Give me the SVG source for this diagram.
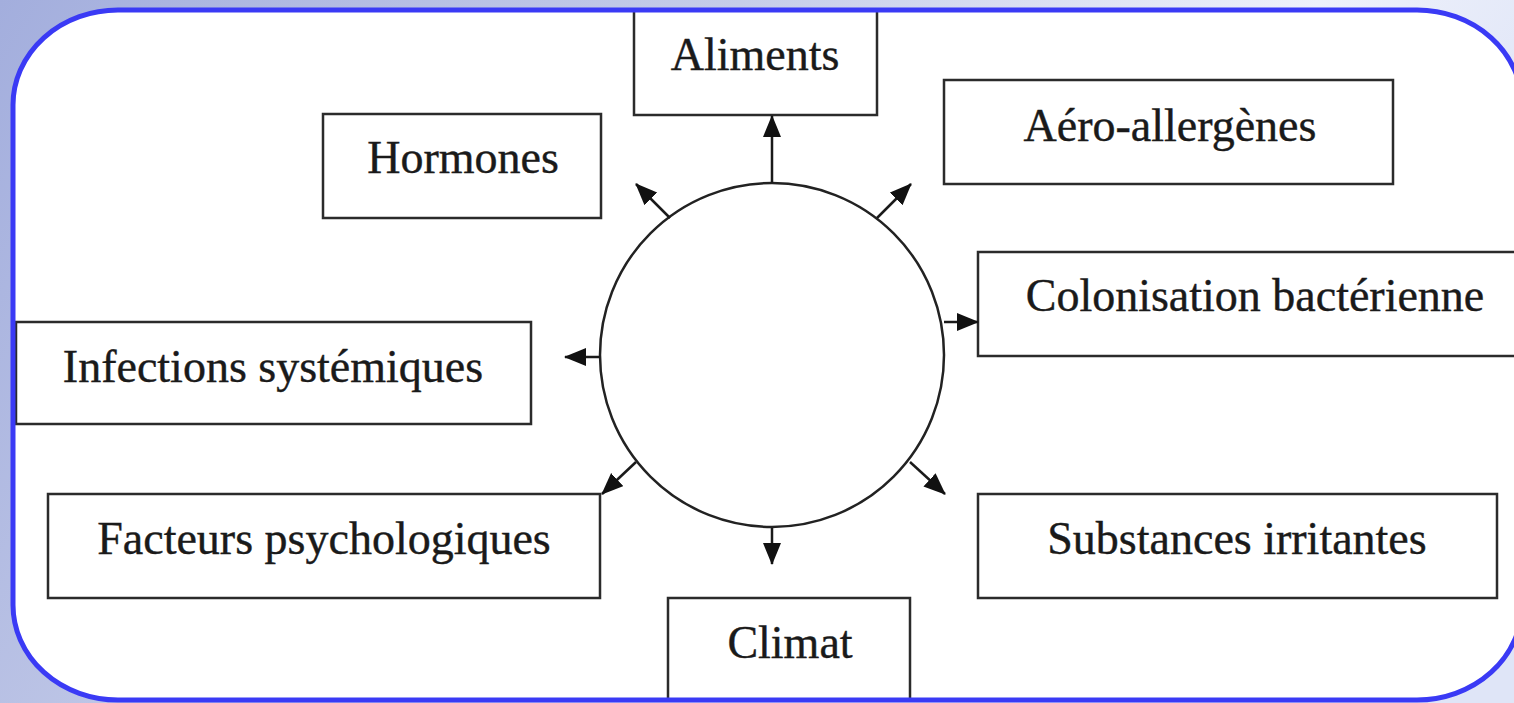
<svg xmlns="http://www.w3.org/2000/svg" width="1514" height="703" viewBox="0 0 1514 703">
  <defs>
    <linearGradient id="bg" x1="0" y1="0" x2="1" y2="0.3">
      <stop offset="0" stop-color="#a3aedd"/>
      <stop offset="0.45" stop-color="#c6cde9"/>
      <stop offset="0.8" stop-color="#eef1fb"/>
      <stop offset="1" stop-color="#dfe5f7"/>
    </linearGradient>
    <clipPath id="frameClip">
      <rect x="13" y="10" width="1509" height="690" rx="105" ry="95"/>
    </clipPath>
    <marker id="arrow" markerUnits="userSpaceOnUse" markerWidth="24" markerHeight="20" refX="21" refY="9" orient="auto">
      <path d="M0,0 L22,9 L0,18 z" fill="#111"/>
    </marker>
    <style>
      .box { fill: #ffffff; stroke: #2b2b2b; stroke-width: 2.5; }
      .lbl { font-family: "Liberation Serif", "Times New Roman", serif; font-size: 46px; fill: #1a1a1a; stroke: #1a1a1a; stroke-width: 0.4; text-anchor: middle; }
      .conn { stroke: #1a1a1a; stroke-width: 2.5; fill: none; marker-end: url(#arrow); }
    </style>
  </defs>

  <rect x="0" y="0" width="1514" height="703" fill="url(#bg)"/>
  <rect x="13" y="10" width="1509" height="690" rx="105" ry="95" fill="#ffffff"/>

  <g clip-path="url(#frameClip)">
    <g id="center">
      <circle cx="772" cy="355" r="172" fill="#ffffff" stroke="#222" stroke-width="2.5"/>
    </g>

    <g id="aliments">
      <rect class="box" x="634" y="0" width="243" height="115"/>
      <text class="lbl" x="755" y="70">Aliments</text>
    </g>
    <g id="hormones">
      <rect class="box" x="323" y="114" width="278" height="104"/>
      <text class="lbl" x="463" y="173">Hormones</text>
    </g>
    <g id="aero-allergenes">
      <rect class="box" x="944" y="80" width="449" height="104"/>
      <text class="lbl" x="1170" y="141">Aéro-allergènes</text>
    </g>
    <g id="colonisation">
      <rect class="box" x="978" y="252" width="560" height="104"/>
      <text class="lbl" x="1255" y="311">Colonisation bactérienne</text>
    </g>
    <g id="infections">
      <rect class="box" x="16" y="322" width="515" height="102"/>
      <text class="lbl" x="273" y="382">Infections systémiques</text>
    </g>
    <g id="facteurs">
      <rect class="box" x="48" y="494" width="552" height="104"/>
      <text class="lbl" x="324" y="554">Facteurs psychologiques</text>
    </g>
    <g id="substances">
      <rect class="box" x="978" y="494" width="519" height="104"/>
      <text class="lbl" x="1237" y="554">Substances irritantes</text>
    </g>
    <g id="climat">
      <rect class="box" x="668" y="598" width="242" height="120"/>
      <text class="lbl" x="790" y="658">Climat</text>
    </g>

    <g id="connectors">
      <line class="conn" x1="772" y1="183" x2="772" y2="116" stroke-width="3"/>
      <line class="conn" x1="670" y1="218" x2="636" y2="184"/>
      <line class="conn" x1="877" y1="218" x2="911" y2="184"/>
      <line class="conn" x1="944" y1="322" x2="978" y2="322"/>
      <line class="conn" x1="600" y1="357" x2="565" y2="357"/>
      <line class="conn" x1="636" y1="462" x2="602" y2="494"/>
      <line class="conn" x1="910" y1="462" x2="945" y2="494"/>
      <line class="conn" x1="772" y1="528" x2="772" y2="564"/>
    </g>
  </g>

  <rect x="13" y="10" width="1509" height="690" rx="105" ry="95" fill="none" stroke="#3a3af5" stroke-width="5"/>
</svg>
